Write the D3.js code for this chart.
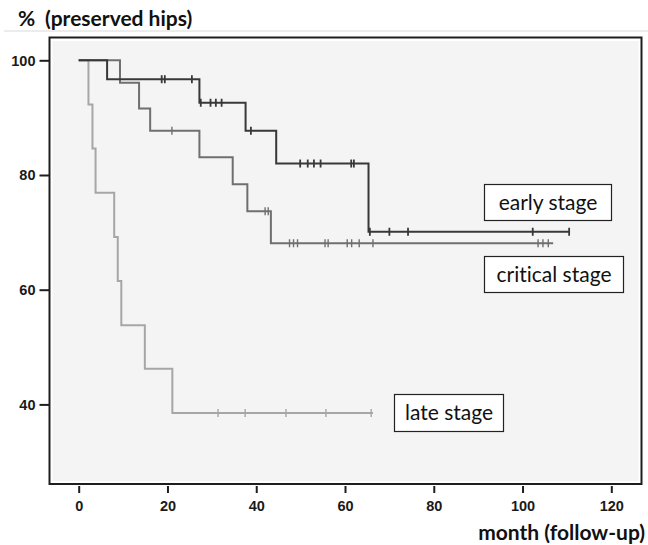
<!DOCTYPE html>
<html>
<head>
<meta charset="utf-8">
<script src="https://cdn.jsdelivr.net/npm/d3@7"></script>
<style>
  html, body { margin: 0; padding: 0; background: #fff; }
  svg { display: block; }
  text { font-variant-ligatures: none; }
</style>
</head>
<body>
<svg id="chart" width="648" height="545"></svg>
<script>
// ---------- data ----------
const xTicks = [0, 20, 40, 60, 80, 100, 120];
const yTicks = [40, 60, 80, 100];

// early stage
const earlyDropMonths = [0, 6.4, 27.2, 37.6, 44.5, 65.3];
const earlySurvival   = [100, 96.7, 92.6, 87.7, 82.0, 70.1];
const earlyCensored   = [18.7, 19.4, 25.5, 27.5, 29.7, 30.9, 32.2, 38.8, 49.9, 51.6, 53.0, 54.5, 61.4, 62.0, 65.6, 70.0, 74.2, 102.3, 110.5];
const earlyEnd = 110.7;

// critical stage
const criticalDropMonths = [0, 9.3, 13.6, 16.1, 27.2, 34.7, 38.0, 43.3];
const criticalSurvival   = [100, 96.1, 91.6, 87.7, 83.1, 78.4, 73.7, 68.1];
const criticalCensored   = [21.0, 42.0, 42.7, 47.5, 48.4, 49.3, 55.5, 56.2, 60.5, 61.5, 63.2, 66.3, 103.5, 104.6, 105.8];
const criticalEnd = 106.9;

// late stage
const lateDropMonths = [0, 2.2, 3.1, 3.8, 8.0, 8.8, 9.6, 14.9, 21.1];
const lateSurvival   = [100, 92.3, 84.6, 76.9, 69.2, 61.5, 53.8, 46.2, 38.5];
const lateCensored   = [31.4, 37.5, 46.7, 55.7, 65.9];
const lateEnd = 66.3;

const seriesNames = ["early stage", "critical stage", "late stage"];

// ---------- drawing ----------
const svg = d3.select("#chart");
const x = d3.scaleLinear().domain([0, 120]).range([78.7, 611.3]);
const y = d3.scaleLinear().domain([0, 100]).range([633.8, 60.3]);

const frame = {left: 49.5, top: 37.5, right: 641.5, bottom: 484};

// faint separator line under title
svg.append("line").attr("x1", 4).attr("x2", 648).attr("y1", 31).attr("y2", 31)
  .attr("stroke", "#ececec").attr("stroke-width", 2);

// plot background
svg.append("rect")
  .attr("x", frame.left + 3).attr("y", frame.top + 3.5)
  .attr("width", frame.right - frame.left - 6).attr("height", frame.bottom - frame.top - 6.5)
  .attr("fill", "#f4f4f4");

// frame
svg.append("rect")
  .attr("x", frame.left).attr("y", frame.top)
  .attr("width", frame.right - frame.left).attr("height", frame.bottom - frame.top)
  .attr("fill", "none").attr("stroke", "#1e1e1e").attr("stroke-width", 2);

// axes
const yAxis = d3.axisLeft(y).tickValues(yTicks).tickSize(10).tickPadding(4);
const gy = svg.append("g").attr("transform", `translate(${frame.left},0)`).call(yAxis);
gy.select(".domain").remove();
gy.selectAll(".tick line").attr("stroke", "#1e1e1e").attr("stroke-width", 2);
gy.selectAll(".tick text").attr("font-family", "Liberation Sans, Arial, sans-serif")
  .attr("font-size", 14.5).attr("fill", "#1a1a1a").attr("font-weight", "bold").attr("dy", "0.34em");

const xAxis = d3.axisBottom(x).tickValues(xTicks).tickSize(7).tickPadding(8);
const gx = svg.append("g").attr("transform", `translate(0,${frame.bottom + 2})`).call(xAxis);
gx.select(".domain").remove();
gx.selectAll(".tick line").attr("stroke", "#1e1e1e").attr("stroke-width", 2);
gx.selectAll(".tick text").attr("font-family", "Liberation Sans, Arial, sans-serif")
  .attr("font-size", 14.5).attr("fill", "#1a1a1a").attr("font-weight", "bold");

// titles
svg.append("text").attr("x", 18).attr("y", 26)
  .attr("font-family", "Lato, 'Open Sans', sans-serif").attr("font-weight", "bold")
  .attr("font-size", 21).attr("fill", "#111").text("%");
svg.append("text").attr("x", 45).attr("y", 26)
  .attr("font-family", "Lato, 'Open Sans', sans-serif").attr("font-weight", "bold")
  .attr("font-size", 21).attr("fill", "#111").text("(preserved hips)");
svg.append("text").attr("x", 645).attr("y", 540).attr("text-anchor", "end")
  .attr("font-family", "Lato, 'Open Sans', sans-serif").attr("font-weight", "bold")
  .attr("font-size", 21).attr("fill", "#111").text("month (follow-up)");

// curves
const line = d3.line().x(d => x(d[0])).y(d => y(d[1])).curve(d3.curveStepAfter);

function levelAt(times, levels, t) {
  let v = levels[0];
  for (let i = 0; i < times.length; i++) if (times[i] <= t) v = levels[i];
  return v;
}

function drawSeries(times, levels, censored, end, color, width, censorWidth) {
  const pts = times.map((t, i) => [t, levels[i]]);
  pts.push([end, levels[levels.length - 1]]);
  const g = svg.append("g");
  g.append("path").datum(pts).attr("d", line)
    .attr("fill", "none").attr("stroke", color).attr("stroke-width", width)
    .attr("stroke-linejoin", "miter");
  g.selectAll("line.c").data(censored).enter().append("line")
    .attr("x1", d => x(d)).attr("x2", d => x(d))
    .attr("y1", d => y(levelAt(times, levels, d)) - 4)
    .attr("y2", d => y(levelAt(times, levels, d)) + 4)
    .attr("stroke", color).attr("stroke-width", censorWidth);
}

drawSeries(lateDropMonths, lateSurvival, lateCensored, lateEnd, "#a6a6a6", 2, 1.4);
drawSeries(criticalDropMonths, criticalSurvival, criticalCensored, criticalEnd, "#6f6f6f", 2, 1.4);
drawSeries(earlyDropMonths, earlySurvival, earlyCensored, earlyEnd, "#383838", 2, 1.8);

// label boxes
const boxes = [
  {name: seriesNames[0], x0: 484.5, y0: 184.5, w: 127, h: 36},
  {name: seriesNames[1], x0: 484.5, y0: 256.5, w: 139, h: 36},
  {name: seriesNames[2], x0: 394.5, y0: 394.5, w: 109, h: 37}
];
const bg = svg.selectAll("g.box").data(boxes).enter().append("g");
bg.append("rect").attr("x", d => d.x0).attr("y", d => d.y0)
  .attr("width", d => d.w).attr("height", d => d.h)
  .attr("fill", "#fff").attr("stroke", "#222").attr("stroke-width", 1.2);
bg.append("text").attr("x", d => d.x0 + d.w / 2).attr("y", d => d.y0 + d.h / 2 + 7)
  .attr("text-anchor", "middle")
  .attr("font-family", "Lato, 'Open Sans', sans-serif").attr("font-size", 21)
  .attr("fill", "#111").text(d => d.name);
</script>
</body>
</html>
